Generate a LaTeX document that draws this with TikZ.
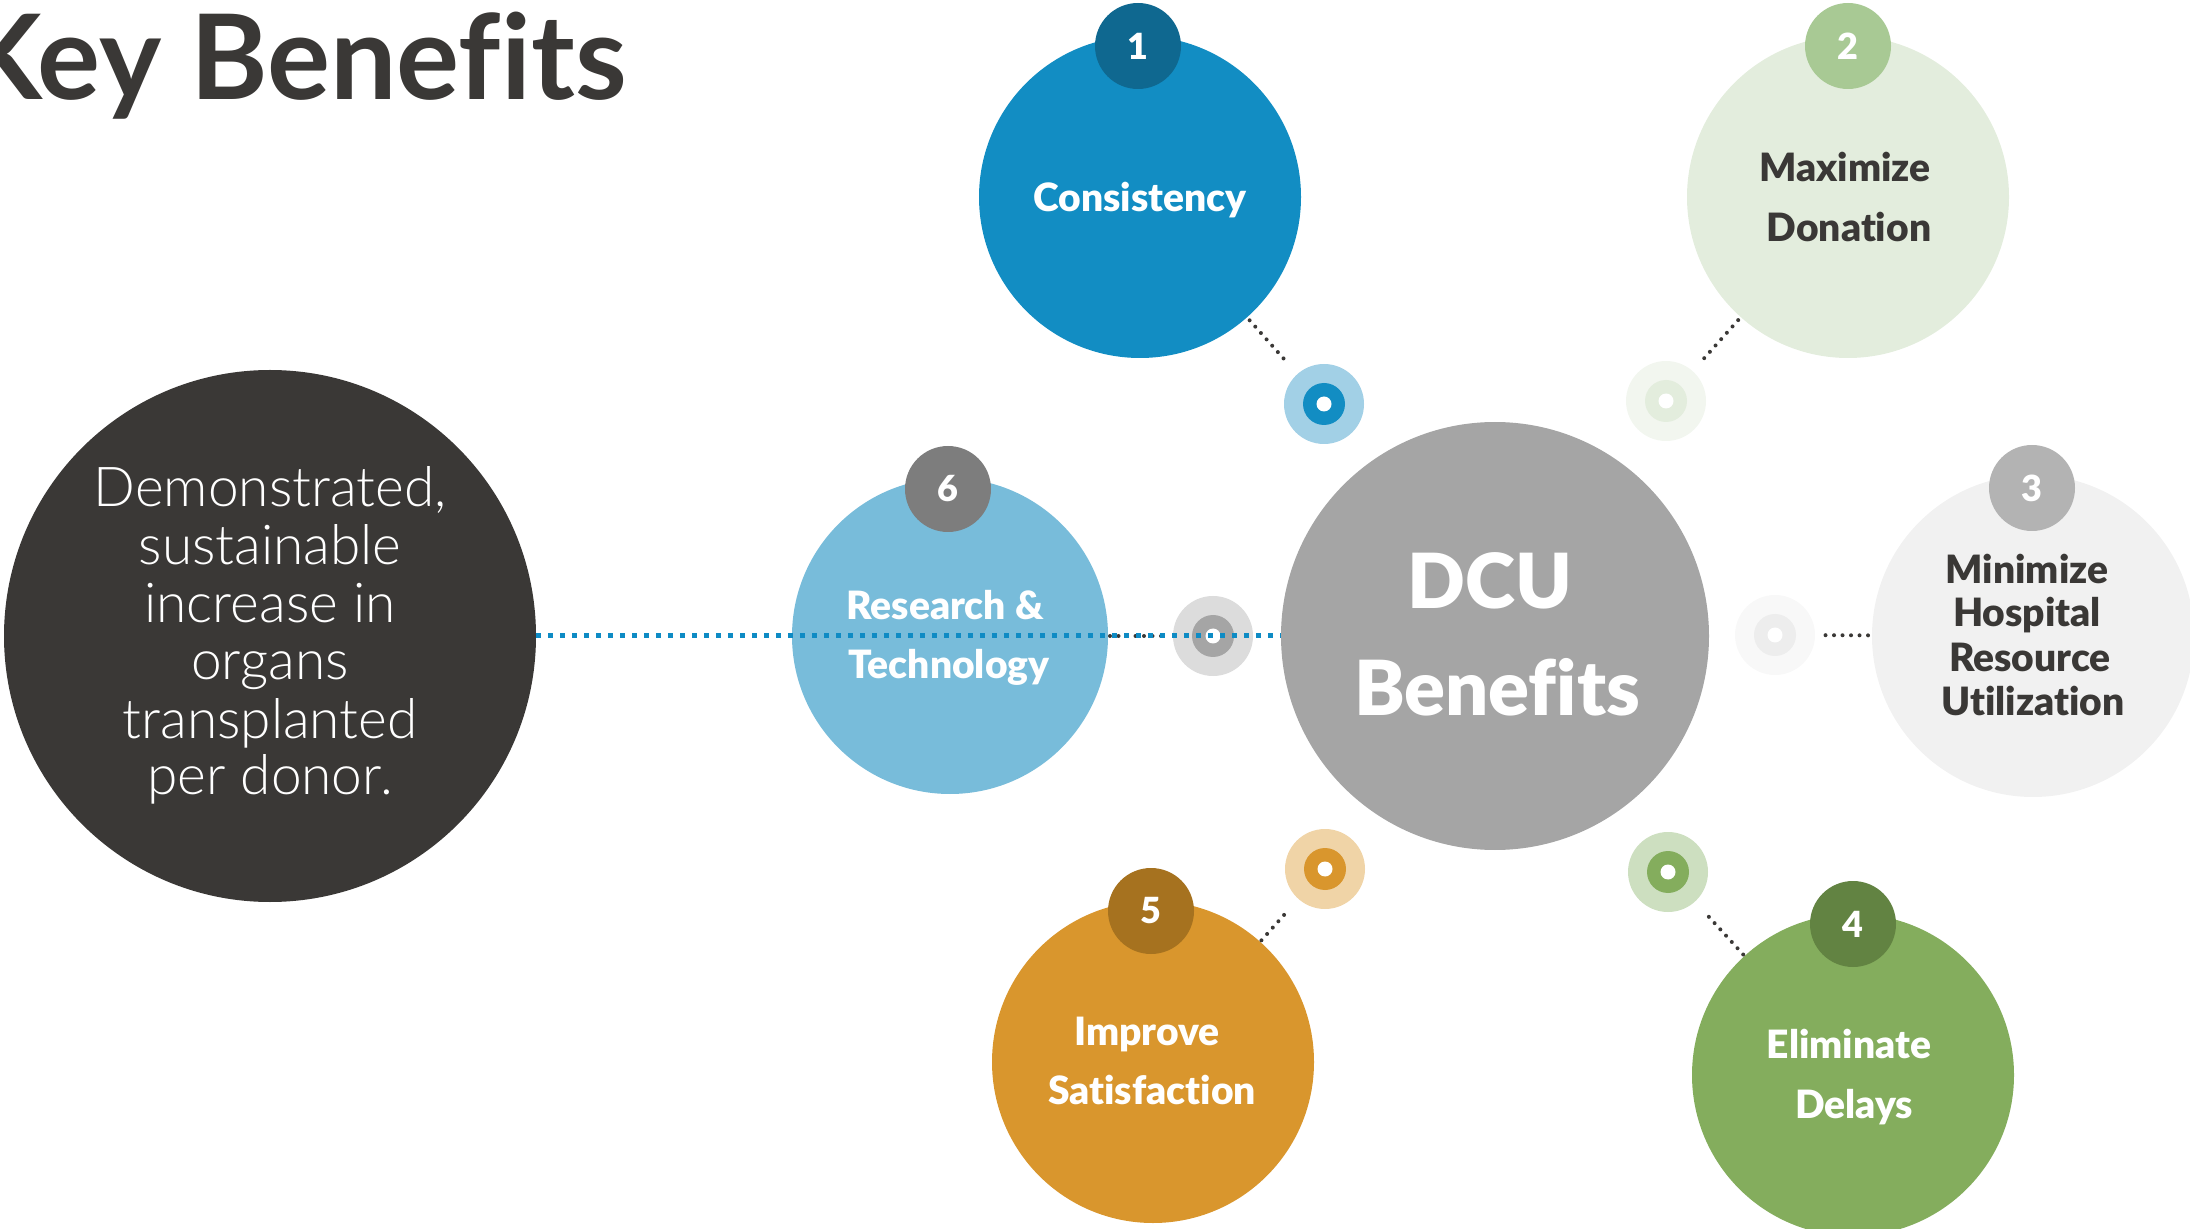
\documentclass[tikz,border=0pt]{standalone}
\usepackage{fontspec}
\setmainfont{Lato}[Ligatures=NoCommon]
\newfontfamily\lightfont{Lato Light}[Ligatures=NoCommon]
\newfontfamily\heavyfont{Lato Black}[Ligatures=NoCommon]
\definecolor{dark}{HTML}{3A3836}
\definecolor{cblue}{HTML}{128DC3}
\definecolor{cbluedk}{HTML}{0F6890}
\definecolor{cbluelt}{HTML}{A2D0E6}
\definecolor{cgreenpl}{HTML}{E3EDDD}
\definecolor{cgreenpb}{HTML}{A8C994}
\definecolor{cgreenvl}{HTML}{F2F6EF}
\definecolor{cgrey}{HTML}{F1F1F1}
\definecolor{cgreyb}{HTML}{B3B3B3}
\definecolor{cgreyvl}{HTML}{F8F8F8}
\definecolor{cgreyl2}{HTML}{EDEDED}
\definecolor{cgreen}{HTML}{84AD5D}
\definecolor{cgreendk}{HTML}{628342}
\definecolor{cgreenlt}{HTML}{CDDFC0}
\definecolor{corange}{HTML}{D9962D}
\definecolor{corangedk}{HTML}{A6721F}
\definecolor{corangelt}{HTML}{F0D4A7}
\definecolor{csky}{HTML}{78BCDA}
\definecolor{cbadge6}{HTML}{7D7D7D}
\definecolor{cmid}{HTML}{A5A5A5}
\definecolor{ctgt6}{HTML}{DCDCDC}
\definecolor{cline}{HTML}{0E8BC4}
\tikzset{
  disc/.style={circle, inner sep=0pt, outer sep=0pt, minimum size=#1pt},
  badge/.style={disc=43, text=white, font=\fontsize{18}{20}\selectfont\heavyfont},
  lbl/.style={anchor=base, inner sep=0pt, font=\fontsize{19.5}{22}\selectfont\heavyfont},
  biglbl/.style={anchor=base, inner sep=0pt, text=white, font=\fontsize{38}{44}\selectfont\heavyfont},
  lightlbl/.style={anchor=base, inner sep=0pt, text=white, font=\fontsize{27.5}{30}\selectfont\lightfont},
  dotline/.style={draw=dark, line width=2pt, line cap=round, dash pattern=on 0pt off 4.25pt},
  blueline/.style={draw=cline, line width=2.5pt, dash pattern=on 2.5pt off 3.5pt},
}
\begin{document}
\begin{tikzpicture}[x=0.5pt,y=-0.5pt]
\useasboundingbox (0,0) rectangle (2190,1229);
\clip (0,0) rectangle (2190,1229);

% title
\node[anchor=base east, inner sep=0pt, text=dark, font=\fontsize{59}{64}\selectfont\bfseries] (title) at (627,100) {Key Benefits};

% left dark circle
\node[disc=266, fill=dark] (left) at (270,636) {};
\node[lightlbl] (l1) at (270,507) {Demonstrated,};
\node[lightlbl] (l2) at (270,565) {sustainable};
\node[lightlbl] (l3) at (270,623) {increase in};
\node[lightlbl] (l4) at (270,680) {organs};
\node[lightlbl] (l5) at (270,738) {transplanted};
\node[lightlbl] (l6) at (270,794) {per donor.};

% center
\node[disc=214, fill=cmid] (dcu) at (1495,636) {};
\node[biglbl] (dcu1) at (1490,609) {DCU};
\node[biglbl] (dcu2) at (1497,715) {Benefits};

% 1 Consistency
\node[disc=161, fill=cblue] (c1) at (1140,197) {};
\node[badge, fill=cbluedk] (b1) at (1138,46) {1};
\node[lbl, text=white] (c1t) at (1140,212) {Consistency};
\node[disc=40, fill=cbluelt] (t1) at (1324,404) {};
\node[disc=21, fill=cblue] (t1m) at (t1) {};
\node[disc=7.5, fill=white] (t1i) at (t1) {};
\draw[dotline, shorten >=7pt, shorten <=2pt] (c1) -- (t1);

% 2 Maximize Donation
\node[disc=161, fill=cgreenpl] (c2) at (1848,197) {};
\node[badge, fill=cgreenpb] (b2) at (1848,46) {2};
\node[lbl, text=dark] (c2t1) at (1845,182) {Maximize};
\node[lbl, text=dark] (c2t2) at (1849,242) {Donation};
\node[disc=40, fill=cgreenvl] (t2) at (1666,401) {};
\node[disc=21, fill=cgreenpl] (t2m) at (t2) {};
\node[disc=7.5, fill=white] (t2i) at (t2) {};
\draw[dotline, shorten >=8pt, shorten <=2pt] (c2) -- (t2);

% 3 Minimize Hospital Resource Utilization
\node[disc=161, fill=cgrey] (c3) at (2033,636) {};
\node[badge, fill=cgreyb] (b3) at (2032,488) {3};
\node[lbl, text=dark] (c3t1) at (2027,584) {Minimize};
\node[lbl, text=dark] (c3t2) at (2027,627) {Hospital};
\node[lbl, text=dark] (c3t3) at (2030,671) {Resource};
\node[lbl, text=dark] (c3t4) at (2033,715) {Utilization};
\node[disc=40, fill=cgreyvl] (t3) at (1775,635) {};
\node[disc=21, fill=cgreyl2] (t3m) at (t3) {};
\node[disc=7.5, fill=white] (t3i) at (t3) {};
\draw[dotline, shorten >=4pt, shorten <=2pt] (c3) -- (t3);

% 4 Eliminate Delays
\node[disc=161, fill=cgreen] (c4) at (1853,1075) {};
\node[badge, fill=cgreendk] (b4) at (1853,924) {4};
\node[lbl, text=white] (c4t1) at (1849,1058) {Eliminate};
\node[lbl, text=white] (c4t2) at (1854,1118) {Delays};
\node[disc=40, fill=cgreenlt] (t4) at (1668,872) {};
\node[disc=21, fill=cgreen] (t4m) at (t4) {};
\node[disc=7.5, fill=white] (t4i) at (t4) {};
\draw[dotline, shorten >=8pt, shorten <=1pt] (c4) -- (t4);

% 5 Improve Satisfaction
\node[disc=161, fill=corange] (c5) at (1153,1062) {};
\node[badge, fill=corangedk] (b5) at (1151,911) {5};
\node[lbl, text=white] (c5t1) at (1147,1045) {Improve};
\node[lbl, text=white] (c5t2) at (1152,1104) {Satisfaction};
\node[disc=40, fill=corangelt] (t5) at (1325,869) {};
\node[disc=21, fill=corange] (t5m) at (t5) {};
\node[disc=7.5, fill=white] (t5i) at (t5) {};
\draw[dotline, shorten >=8pt, shorten <=1pt] (c5) -- (t5);

% 6 Research & Technology
\node[disc=158, fill=csky] (c6) at (950,636) {};
\node[badge, fill=cbadge6] (b6) at (948,489) {6};
\node[lbl, text=white] (c6t1) at (945,619) {Research \&};
\node[lbl, text=white] (c6t2) at (949,678) {Technology};
\node[disc=40, fill=ctgt6] (t6) at (1213,636) {};
\node[disc=21, fill=cmid] (t6m) at (t6) {};
\node[disc=7.5, fill=white] (t6i) at (t6) {};
\draw[dotline, shorten >=5pt, shorten <=1pt] (c6) -- (t6);

% blue dashed line
\draw[blueline] (left.east) -- (dcu.west);
\end{tikzpicture}
\end{document}
